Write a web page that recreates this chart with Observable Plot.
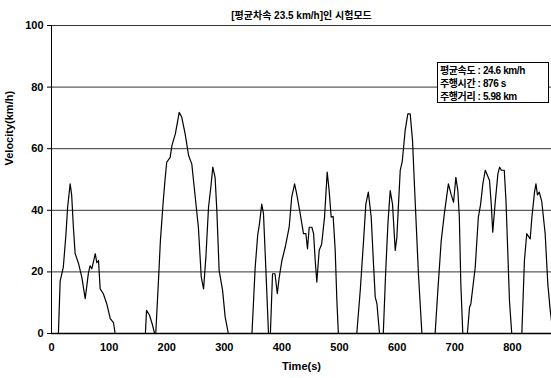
<!DOCTYPE html>
<html>
<head>
<meta charset="utf-8">
<script src="https://cdn.jsdelivr.net/npm/d3@7"></script>
<script src="https://cdn.jsdelivr.net/npm/@observablehq/plot@0.6"></script>
<style>
  body { margin: 0; background: #fff; }
  #wrap { position: relative; width: 551px; height: 378px; overflow: hidden; }
  #info {
    position: absolute; left: 437px; top: 62px; width: 108px; height: 38px;
    border: 1px solid #000; background: #fff; padding: 1px 0 0 2px;
    font-family: "Liberation Sans", "Noto Sans CJK KR", sans-serif;
    font-size: 10px; font-weight: bold; line-height: 13px; letter-spacing: -0.4px; color: #000;
  }
</style>
</head>
<body>
<div id="wrap"></div>
<script>
const title = "[평균차속 23.5 km/h]인 시험모드";
const xLabel = "Time(s)";
const yLabel = "Velocity(km/h)";
const infoLines = ["평균속도 : 24.6 km/h", "주행시간 : 876 s", "주행거리 : 5.98 km"];
const xTicks = [0, 100, 200, 300, 400, 500, 600, 700, 800];
const yTicks = [0, 20, 40, 60, 80, 100];
const gridY = [20, 40, 60, 80, 100];

const time = [0,12,15,18,20.5,25,28,32.4,35,38,41,47,52.6,58.5,64,67,70,76,78.6,81.6,84.5,90,96,102,107.6,110.5,
  163,165,170,175,179,
  181,186,189,194,197,200,206,209,215,221.7,226,232,238,243.6,249.5,255,260,264,268,272.6,276.6,280,284,287,291,297,301.5,307,
  348,353.6,358,361,365,368,372,376.7,380,383.7,388,392,395,400,405.7,412.6,417,422,426,431.7,437.5,441.6,444.4,447.4,452,455,457.8,460.6,464.7,469,474,478.6,482,485.5,489,492.5,495.4,498,
  530,536,541.7,545.7,550,555,559,562,565,569.4,576,580,584,588,592,596.7,599.5,602.4,605.4,609,614,618.6,622.7,626.7,631,637,643,
  666,670.7,676.5,682,689,694,698,702,705.4,708,710.6,714,722,725.7,728,735.6,741,745,748.8,753,756,760.4,763.4,766,770,775,778,781,786,789,792,795,799,
  816.5,821,825,831,834,838.5,841,843.6,846.7,851,857,861.6,865.8,868];
const velocity = [0,0,17,19.5,21.5,32,41,48.6,45,34.5,26,22.7,18.3,11.3,19.5,22,21,25.9,23,23.7,14.5,12.9,9.6,4.8,3.5,0,
  0,7.5,6,3,0,
  0,18.3,30,43,49.7,55.6,57.2,61,64.8,71.8,70.3,64.8,57.8,55,44.3,34.5,18.3,14.5,24.8,41,47.5,54,50.7,40,20.5,14,5.3,0,
  0,21.5,32,35.6,42,38.9,21.5,0,0,19.4,19.4,12.9,17.8,23.7,28,34.5,44.3,48.6,45,38.9,32.4,32.4,27.5,34.5,34.5,32.4,23.7,16.7,27,29,37.8,52.4,46.4,37.8,38,27,10.7,0,
  0,14,30,42,45.9,37.8,22.6,11.8,9.6,0,0,19.4,35.6,46.4,42,27,31,42,53,56,66,71.3,71.3,62.7,44.3,19.4,0,
  0,14,30,38.9,48.6,45,42.6,50.7,46.4,37.8,16.1,0,0,8.5,9.6,21.5,37.8,42,48.6,53,51.7,49.7,42,32.9,42,51.9,54,53,53,43,27,10.7,0,
  0,23.7,32.4,30.7,37.8,45.9,48.6,45,45.9,43,32.4,16.1,7.5,4];

const data = time.map((t, i) => ({t, v: velocity[i]}));

const font = "'Liberation Sans', 'Noto Sans CJK KR', sans-serif";

const chart = Plot.plot({
  width: 551,
  height: 378,
  marginTop: 25,
  marginBottom: 45,
  marginLeft: 51,
  marginRight: 0,
  style: {fontFamily: font, fontSize: "11px", fontWeight: "bold", background: "#fff", color: "#000"},
  x: {domain: [0, 868]},
  y: {domain: [0, 100]},
  marks: [
    Plot.ruleY(gridY, {stroke: "#333", strokeWidth: 1}),
    Plot.axisX({ticks: xTicks, tickSize: 0, tickPadding: 10, label: null, fontSize: 11, fontWeight: "bold"}),
    Plot.axisY({ticks: yTicks, tickSize: 4, tickPadding: 4, label: null, fontSize: 11, fontWeight: "bold"}),
    Plot.ruleX([0], {stroke: "#000"}),
    Plot.ruleY([0], {stroke: "#000", strokeWidth: 1.5}),
    Plot.line(data, {x: "t", y: "v", stroke: "#000", strokeWidth: 1.2}),
    Plot.text([title], {frameAnchor: "top", dy: -14, fontSize: 10, fontWeight: "bold", fill: "#000"}),
    Plot.text([xLabel], {frameAnchor: "bottom", dy: 36, fontSize: 11, fontWeight: "bold", fill: "#000"}),
    Plot.text([yLabel], {frameAnchor: "left", dx: -42, dy: -14, rotate: -90, fontSize: 11, fontWeight: "bold", fill: "#000"})
  ]
});

const wrap = document.getElementById("wrap");
wrap.appendChild(chart);
const info = document.createElement("div");
info.id = "info";
info.innerHTML = infoLines.map(s => `<div>${s}</div>`).join("");
wrap.appendChild(info);
</script>
</body>
</html>
